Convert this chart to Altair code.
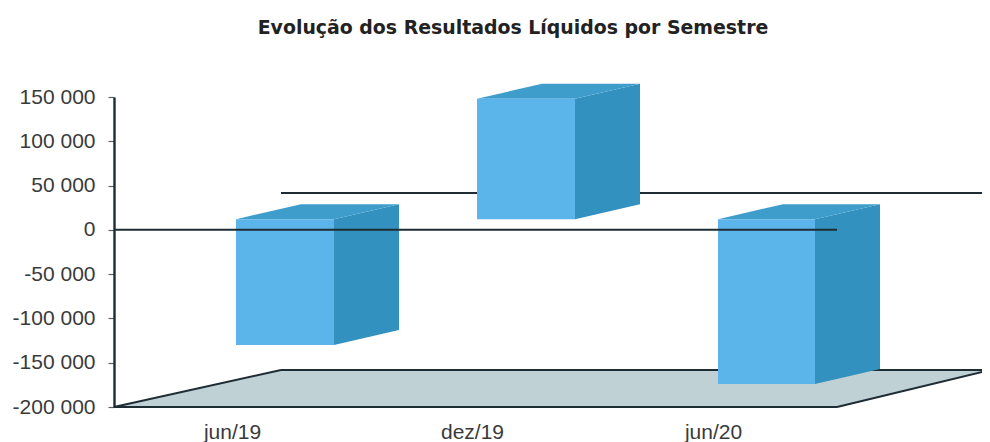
import altair as alt
import pandas as pd

TITLE = "Evolução dos Resultados Líquidos por Semestre"
categories = ["jun/19", "dez/19", "jun/20"]
category_pos = [118, 358, 599]
bar_left = [122, 363, 604]
bar_right = [220, 461, 701]
bar_top = [12000, 148000, 12000]
bar_bottom = [-130000, 12000, -174000]
depth_x = 65
depth_y = 17000
y_ticks = [150000, 100000, 50000, 0, -50000, -100000, -150000, -200000]
floor_y = -200000
floor_back_y = -158200
wall_y = 41700
floor_front_end = 723
floor_back_start = 167
floor_back_end = 876

LINE = "#1e2c33"
TEXT = "#3a3a3a"
xs = alt.Scale(domain=[0, 876], range=[0, 876], nice=False, zero=False)
ys = alt.Scale(domain=[-200000, 150000], nice=False, zero=False)
label_expr = "{" + ",".join(f"'{p}':'{c}'" for p, c in zip(category_pos, categories)) + "}[datum.value]"
x_axis = alt.Axis(
    values=category_pos, labelExpr=label_expr, grid=False, domain=False, ticks=False,
    title=None, labelFont="Liberation Sans", labelFontSize=21, labelColor=TEXT,
    labelPadding=14, labelFlush=False, labelOverlap=False,
)
y_axis = alt.Axis(
    values=y_ticks,
    labelExpr="replace(replace(format(datum.value, ','), /,/g, ' '), /\u2212/g, '-')",
    grid=False, title=None, domainColor=LINE, domainWidth=2.4, tickColor="#55646a",
    tickSize=6, tickWidth=1.2, labelFont="Liberation Sans", labelFontSize=21,
    labelColor=TEXT, labelPadding=13, labelOverlap=False,
)
X = alt.X("x:Q", scale=xs, axis=x_axis)
Y = alt.Y("y:Q", scale=ys, axis=y_axis, stack=None)

side, top = [], []
for i in range(3):
    side += [
        dict(b=i, x=bar_right[i], y=bar_top[i], y2=bar_bottom[i]),
        dict(b=i, x=bar_right[i] + depth_x, y=bar_top[i] + depth_y, y2=bar_bottom[i] + depth_y),
    ]
    top += [
        dict(b=i, y=bar_top[i], x=bar_left[i], x2=bar_right[i]),
        dict(b=i, y=bar_top[i] + depth_y, x=bar_left[i] + depth_x, x2=bar_right[i] + depth_x),
    ]

floor = alt.Chart(pd.DataFrame([
    dict(y=floor_y, x=0, x2=floor_front_end),
    dict(y=floor_back_y, x=floor_back_start, x2=floor_back_end),
])).mark_area(orient="horizontal", color="#bfd1d5").encode(x=X, x2="x2:Q", y=Y)


def lines(rows, width=2.0):
    df = pd.DataFrame(
        [dict(k=k, x=p[0], y=p[1]) for k, r in enumerate(rows) for p in r]
    )
    return alt.Chart(df).mark_line(color=LINE, strokeWidth=width).encode(x=X, y=Y, detail="k:N")


back_lines = lines([
    [(floor_back_start, wall_y), (floor_back_end, wall_y)],
    [(floor_back_start, floor_back_y), (floor_back_end, floor_back_y)],
    [(0, floor_y), (floor_back_start, floor_back_y)],
    [(floor_front_end, floor_y), (floor_back_end, floor_back_y)],
    [(0, floor_y), (floor_front_end, floor_y)],
])

front = alt.Chart(pd.DataFrame(dict(x=bar_left, x2=bar_right, y=bar_top, y2=bar_bottom))).mark_rect(
    color="#5cb5ea"
).encode(x=X, x2="x2:Q", y=Y, y2="y2:Q")

side_faces = alt.Chart(pd.DataFrame(side)).mark_area(color="#3391bf").encode(
    x=X, y=Y, y2="y2:Q", detail="b:N"
)
top_faces = alt.Chart(pd.DataFrame(top)).mark_area(orient="horizontal", color="#3f9dcc").encode(
    x=X, x2="x2:Q", y=Y, detail="b:N"
)

zero_line = lines([[(0, 0), (floor_front_end, 0)]])

chart = alt.layer(
    floor, back_lines, side_faces, top_faces, front, zero_line
).properties(
    width=868,
    height=310,
    padding={"left": 106, "top": 89, "right": 0, "bottom": 35},
    autosize=alt.AutoSizeParams(type="none"),
    title=alt.TitleParams(
        TITLE, font="DejaVu Sans", fontSize=18.9, fontWeight="bold", color="#222222",
        anchor="middle", dx=-35, offset=46,
    ),
).configure_view(stroke=None)

chart.save("out.html", embed_options={"renderer": "svg", "actions": False})
